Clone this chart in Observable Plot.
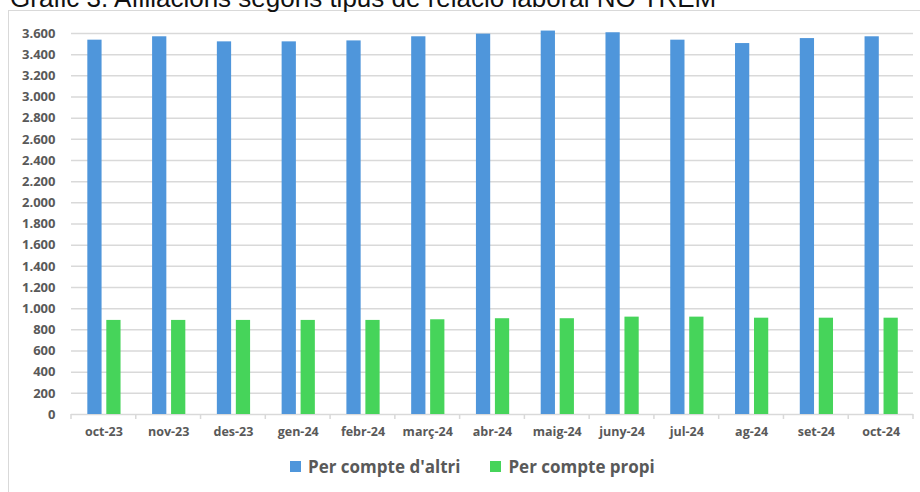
<!DOCTYPE html>
<html>
<head>
<meta charset="utf-8">
<script src="https://cdn.jsdelivr.net/npm/d3@7"></script>
<script src="https://cdn.jsdelivr.net/npm/@observablehq/plot@0.6"></script>
<style>
  html, body { margin: 0; padding: 0; background: #fff; }
  #wrap { position: relative; width: 920px; height: 492px; overflow: hidden; font-family: "Open Sans", sans-serif; }
  #frame { position: absolute; left: 8px; top: 10px; width: 920px; height: 490px; border-left: 1.5px solid #d9d9d9; border-top: 1.5px solid #d9d9d9; box-sizing: border-box; }
  #title { position: absolute; left: 10px; top: -17px; font: 26px "Liberation Sans", Arial, sans-serif; color: #111; white-space: nowrap; }
  #chart { position: absolute; left: 0; top: 0; }
  #legend { position: absolute; left: 290px; top: 455px; display: flex; align-items: center; font-weight: 700; font-size: 17px; color: #595959; white-space: nowrap; }
  .sw { display: inline-block; width: 11px; height: 11px; margin-right: 7px; }
  .item { display: flex; align-items: center; }
</style>
</head>
<body>
<div id="wrap">
  <div id="frame"></div>
  <div id="title">Gràfic 3. Afiliacions segons tipus de relació laboral NO TREM</div>
  <div id="chart"></div>
  <div id="legend"></div>
</div>
<script>
const months = ["oct-23","nov-23","des-23","gen-24","febr-24","març-24","abr-24","maig-24","juny-24","jul-24","ag-24","set-24","oct-24"];
const altri = [3537, 3569, 3521, 3521, 3530, 3569, 3594, 3623, 3607, 3537, 3505, 3552, 3569];
const propi = [889, 889, 889, 889, 889, 895, 905, 905, 920, 920, 910, 910, 910];
const seriesNames = ["Per compte d'altri", "Per compte propi"];
const seriesColors = ["#4F96DB", "#46D45A"];
const yTicks = [0, 200, 400, 600, 800, 1000, 1200, 1400, 1600, 1800, 2000, 2200, 2400, 2600, 2800, 3000, 3200, 3400, 3600];

const fmt = d3.formatLocale({decimal: ",", thousands: ".", grouping: [3], currency: ["", "€"]}).format(",");

const W = 920, ML = 71, MR = 7;
const step = (W - ML - MR) / months.length;

const rowsAltri = months.map((m, i) => ({month: m, value: altri[i]}));
const rowsPropi = months.map((m, i) => ({month: m, value: propi[i]}));

const grey = "#d9d9d9";

function boundaryTicks(index, scales, values, dims) {
  const g = d3.create("svg:g").attr("stroke", grey).attr("stroke-width", 1.5);
  const y0 = scales.y(0);
  const edges = months.map(m => scales.x(m));
  edges.push(scales.x(months[months.length - 1]) + step);
  for (const e of edges) {
    g.append("line").attr("x1", e).attr("x2", e).attr("y1", y0).attr("y2", y0 + 5);
  }
  return g.node();
}

const chart = Plot.plot({
  width: W,
  height: 450,
  marginLeft: ML,
  marginRight: MR,
  marginTop: 33,
  marginBottom: 36,
  style: {fontFamily: "'Open Sans', sans-serif", background: "transparent"},
  x: {type: "band", domain: months, padding: 0, round: false},
  y: {domain: [0, 3600], range: [414, 33]},
  marks: [
    Plot.gridY(yTicks, {stroke: grey, strokeOpacity: 1, strokeWidth: 1.5}),
    Plot.barY(rowsAltri, {x: "month", y: "value", fill: seriesColors[0], insetLeft: step * 0.252, insetRight: step * 0.528}),
    Plot.barY(rowsPropi, {x: "month", y: "value", fill: seriesColors[1], insetLeft: step * 0.545, insetRight: step * 0.235}),
    boundaryTicks,
    Plot.axisX({tickSize: 0, tickPadding: 13, fontSize: 12.5, fontWeight: 700, fill: "#595959", label: null}),
    Plot.axisY({ticks: yTicks, tickSize: 0, tickPadding: 16, tickFormat: fmt, fontSize: 13, fontWeight: 700, fill: "#595959", label: null})
  ]
});
document.getElementById("chart").appendChild(chart);

const legend = document.getElementById("legend");
seriesNames.forEach((name, i) => {
  const item = document.createElement("div");
  item.className = "item";
  if (i > 0) item.style.marginLeft = "30px";
  const sw = document.createElement("span");
  sw.className = "sw";
  sw.style.background = seriesColors[i];
  item.appendChild(sw);
  item.appendChild(document.createTextNode(name));
  legend.appendChild(item);
});
</script>
</body>
</html>
